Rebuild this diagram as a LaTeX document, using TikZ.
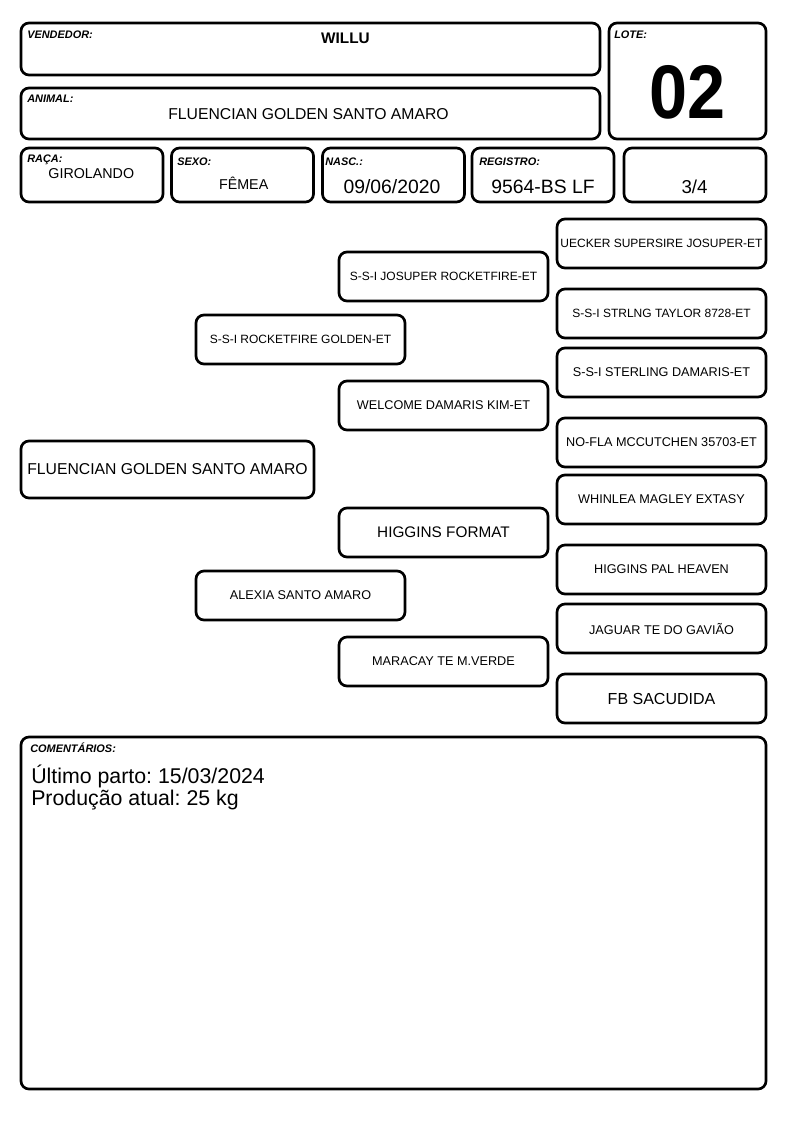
\documentclass[tikz,border=0pt]{standalone}
\usepackage{fontspec}
\setmainfont{Liberation Sans}
\usepackage{graphicx}
\frenchspacing

\tikzset{
  cell/.style={draw, line width=2pt, rounded corners=6pt, inner sep=0pt},
  pedbox/.style={cell, minimum width=156.75pt, minimum height=36.75pt, font=\fontsize{9.5}{11}\selectfont},
  tag/.style={anchor=base west, inner sep=0pt, font=\fontsize{8.2}{9}\selectfont\bfseries\itshape},
  val/.style={anchor=base, inner sep=0pt},
}

\begin{document}
\begin{tikzpicture}[x=0.75pt, y=-0.75pt]
  \useasboundingbox (0,0) rectangle (794,1123);
  % header boxes
  \node[cell, minimum width=434.25pt, minimum height=39pt] (vend) at (310.5,49) {};
  \node[cell, minimum width=434.25pt, minimum height=38.25pt] (anim) at (310.5,113.5) {};
  \node[cell, minimum width=117.75pt, minimum height=87pt] (lote) at (687.5,81) {};
  \node[cell, minimum width=106.5pt, minimum height=40.5pt] (raca) at (92,175) {};
  \node[cell, minimum width=106.5pt, minimum height=40.5pt] (sexo) at (242.5,175) {};
  \node[cell, minimum width=106.5pt, minimum height=40.5pt] (nasc) at (393.5,175) {};
  \node[cell, minimum width=106.5pt, minimum height=40.5pt] (reg) at (543,175) {};
  \node[cell, minimum width=106.5pt, minimum height=40.5pt] (grau) at (695,175) {};
  \node[tag] (vendtag) at (27,39) {VENDEDOR:};
  \node[tag] (animtag) at (27,103) {ANIMAL:};
  \node[tag] (lotetag) at (614,39) {LOTE:};
  \node[tag] (racatag) at (27,163) {RAÇA:};
  \node[tag] (sexotag) at (177,165.5) {SEXO:};
  \node[tag] (nasctag) at (325,165.5) {NASC.:};
  \node[tag] (regtag) at (479,165.5) {REGISTRO:};
  \node[val, font=\fontsize{11.5}{13}\selectfont\bfseries] (vendval) at (345.5,43.3) {WILLU};
  \node[val, font=\fontsize{11.8}{14}\selectfont] (animval) at (308.5,120) {FLUENCIAN GOLDEN SANTO AMARO};
  \node[val, font=\fontsize{57}{60}\selectfont\bfseries] (loteval) at (687.5,119) {\scalebox{0.9}[1]{02}};
  \node[val, font=\fontsize{10.7}{12}\selectfont] (racaval) at (91.3,178.3) {GIROLANDO};
  \node[val, font=\fontsize{10.7}{12}\selectfont] (sexoval) at (243.7,189.3) {FÊMEA};
  \node[val, font=\fontsize{14.5}{16}\selectfont] (nascval) at (392,194) {09/06/2020};
  \node[val, font=\fontsize{14.5}{16}\selectfont] (regval) at (543,194) {9564-BS LF};
  \node[val, font=\fontsize{14}{16}\selectfont] (grauval) at (694.5,193.3) {3/4};
  % pedigree
  \node[cell, minimum width=219.75pt, minimum height=42.75pt, font=\fontsize{11.8}{14}\selectfont] (an) at (167.5,469.5) {FLUENCIAN GOLDEN SANTO AMARO};
  \node[pedbox, font=\fontsize{9}{11}\selectfont] (s) at (300.5,339.5) {S-S-I ROCKETFIRE GOLDEN-ET};
  \node[pedbox] (d) at (300.5,595.5) {ALEXIA SANTO AMARO};
  \node[pedbox, font=\fontsize{9}{11}\selectfont] (ss) at (443.5,276.5) {S-S-I JOSUPER ROCKETFIRE-ET};
  \node[pedbox] (sd) at (443.5,405.5) {WELCOME DAMARIS KIM-ET};
  \node[pedbox, font=\fontsize{11.5}{13}\selectfont] (ds) at (443.5,532.5) {HIGGINS FORMAT};
  \node[pedbox] (dd) at (443.5,661.5) {MARACAY TE M.VERDE};
  \node[pedbox, font=\fontsize{9}{11}\selectfont] (sss) at (661.5,243.5) {UECKER SUPERSIRE JOSUPER-ET};
  \node[pedbox, font=\fontsize{9}{11}\selectfont] (ssd) at (661.5,313.5) {S-S-I STRLNG TAYLOR 8728-ET};
  \node[pedbox] (sds) at (661.5,372.5) {S-S-I STERLING DAMARIS-ET};
  \node[pedbox] (sdd) at (661.5,442.5) {NO-FLA MCCUTCHEN 35703-ET};
  \node[pedbox] (dss) at (661.5,499.5) {WHINLEA MAGLEY EXTASY};
  \node[pedbox] (dsd) at (661.5,569.5) {HIGGINS PAL HEAVEN};
  \node[pedbox] (dds) at (661.5,628.5) {JAGUAR TE DO GAVIÃO};
  \node[pedbox, font=\fontsize{12}{14}\selectfont] (ddd) at (661.5,698.5) {FB SACUDIDA};
  % comments
  \node[cell, minimum width=558.75pt, minimum height=264pt] (cmt) at (393.5,913) {};
  \node[tag] (cmttag) at (30,752.7) {COMENTÁRIOS:};
  \node[val, anchor=base west, font=\fontsize{16}{18}\selectfont] (cmt1) at (31,783) {Último parto: 15/03/2024};
  \node[val, anchor=base west, font=\fontsize{16}{18}\selectfont] (cmt2) at (31,805) {Produção atual: 25 kg};
\end{tikzpicture}
\end{document}
